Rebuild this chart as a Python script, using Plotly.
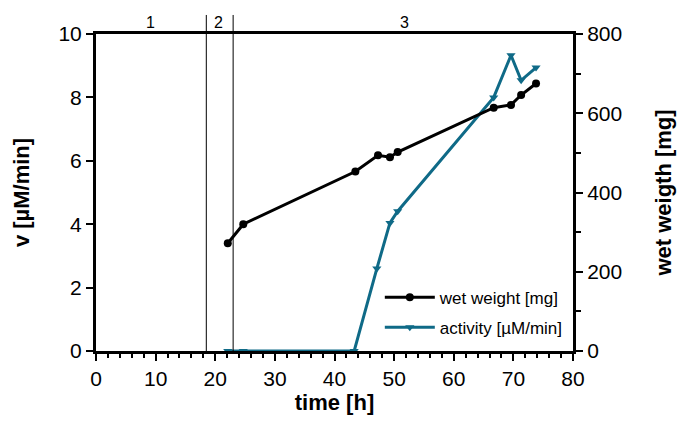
import plotly.graph_objects as go

# Data
weight_time = [22.1, 24.7, 43.5, 47.3, 49.3, 50.6, 66.7, 69.6, 71.3, 73.8]
weight_mg = [272, 320, 453, 494, 489, 502, 614, 621, 646, 675]

activity_time = [22.1, 24.7, 43.3, 47.1, 49.3, 50.6, 66.7, 69.6, 71.3, 73.8]
activity_v = [0, 0, 0, 2.6, 4.04, 4.41, 8.0, 9.33, 8.54, 8.94]

phase_bounds = [18.5, 23.0]
phase_labels = ["1", "2", "3"]
phase_label_x = [9.2, 20.6, 51.8]

BLUE = "#0f6a87"
FONT = "Liberation Sans, Arial, sans-serif"

fig = go.Figure()

fig.add_trace(go.Scatter(
    x=weight_time, y=weight_mg, name="wet weight [mg]", yaxis="y2",
    legendgroup="w",
    mode="lines+markers", line=dict(color="black", width=3),
    marker=dict(symbol="circle", size=8, color="black"),
))
fig.add_trace(go.Scatter(
    x=activity_time, y=activity_v, name="activity [µM/min]", yaxis="y",
    legendgroup="a",
    mode="lines+markers", line=dict(color=BLUE, width=3),
    marker=dict(symbol="triangle-down", size=8, color=BLUE),
))

for b in phase_bounds:
    fig.add_shape(type="line", xref="x", yref="paper", x0=b, x1=b, y0=0, y1=1.06,
                  line=dict(color="black", width=1))

for lab, lx in zip(phase_labels, phase_label_x):
    fig.add_annotation(x=lx, y=1.0, xref="x", yref="paper", text=lab,
                       showarrow=False, yanchor="bottom", yshift=1,
                       font=dict(size=16, color="black", family=FONT))

fig.update_layout(
    width=687, height=425,
    margin=dict(l=88, r=122, t=26, b=82, autoexpand=False),
    plot_bgcolor="white", paper_bgcolor="white",
    font=dict(family=FONT, color="black"),
    showlegend=True,
    legend=dict(x=0.595, y=0.225, xanchor="left", yanchor="top",
                bgcolor="rgba(0,0,0,0)", font=dict(size=17, family=FONT),
                tracegroupgap=5, itemwidth=50),
    xaxis=dict(
        range=[0, 80], dtick=10, tick0=0, automargin=False,
        showline=True, linewidth=3, linecolor="black", mirror=True,
        ticks="outside", ticklen=7, tickwidth=2, tickcolor="black",
        minor=dict(dtick=2, ticks="outside", ticklen=4, tickwidth=2, tickcolor="black"),
        showgrid=False, zeroline=False,
        tickfont=dict(size=21, family=FONT),
        title=dict(text="<b>time [h]</b>", font=dict(size=22, family=FONT), standoff=6),
    ),
    yaxis=dict(
        range=[0, 10], dtick=2, automargin=False,
        showline=True, linewidth=3, linecolor="black",
        ticks="outside", ticklen=7, tickwidth=2, tickcolor="black",
        showgrid=False, zeroline=False,
        tickfont=dict(size=21, family=FONT),
        title=dict(text="<b>v [µM/min]</b>", font=dict(size=22, family=FONT), standoff=23),
    ),
    yaxis2=dict(
        range=[0, 800], dtick=200, overlaying="y", side="right", automargin=False,
        showline=True, linewidth=3, linecolor="black",
        ticks="outside", ticklen=7, tickwidth=2, tickcolor="black",
        minor=dict(dtick=100, ticks="outside", ticklen=5, tickwidth=2, tickcolor="black"),
        showgrid=False, zeroline=False,
        tickfont=dict(size=21, family=FONT),
        title=dict(text="<b>wet weigth [mg]</b>", font=dict(size=22, family=FONT), standoff=35),
    ),
)

fig.write_html("out.html")
